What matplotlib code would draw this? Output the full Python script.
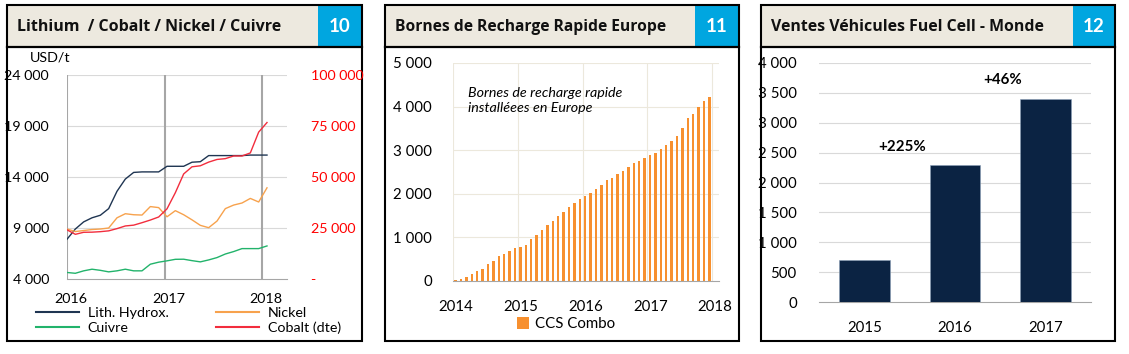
import numpy as np
import matplotlib
matplotlib.use("Agg")
import matplotlib.pyplot as plt
from matplotlib.patches import Rectangle
import matplotlib.transforms as mtransforms

plt.rcParams['font.family'] = ['Lato', 'DejaVu Sans']

# ---------------- DATA ----------------
# Panel 10: monthly-ish points from Jan 2016 to Jan 2018
metal_steps = list(range(25))
lith_hydrox = [7900, 8900, 9600, 10000, 10250, 10900, 12600, 13800, 14450, 14500, 14500, 14500,
               15050, 15050, 15050, 15450, 15500, 16100, 16100, 16100, 16100, 16100, 16150, 16150, 16150]
nickel = [8900, 8650, 8750, 8850, 8900, 9000, 10000, 10400, 10300, 10270, 11100, 11000,
          10100, 10700, 10300, 9800, 9260, 9030, 9680, 10900, 11250, 11450, 11900, 11550, 12940]
cuivre = [4640, 4560, 4800, 4960, 4850, 4700, 4800, 4960, 4800, 4800, 5450, 5650,
          5780, 5930, 5940, 5800, 5680, 5870, 6100, 6450, 6690, 6980, 6980, 6980, 7240]
cobalt = [24100, 21900, 22900, 22960, 23200, 23600, 24700, 26000, 26400, 27600, 28900, 30400,
          34400, 42300, 51500, 55000, 55500, 57300, 58600, 59000, 60300, 60300, 61800, 72000, 76700]
metal_years = [2016, 2017, 2018]
left_ticks = [4000, 9000, 14000, 19000, 24000]
right_ticks = [0, 25000, 50000, 75000, 100000]

# Panel 11: CCS Combo fast chargers in Europe, monthly Jan 2014 - Dec 2017
ccs_months = list(range(48))
ccs_combo = [15, 50, 90, 150, 220, 280, 380, 460, 570, 630, 690, 750,
             780, 820, 960, 1050, 1180, 1280, 1380, 1490, 1580, 1700, 1800, 1880,
             1950, 2010, 2100, 2200, 2320, 2370, 2450, 2530, 2610, 2700, 2760, 2830,
             2880, 2940, 3020, 3130, 3200, 3330, 3500, 3730, 3830, 4000, 4130, 4230]
ccs_years = [2014, 2015, 2016, 2017, 2018]

# Panel 12: Fuel cell vehicle sales worldwide
fc_years = ['2015', '2016', '2017']
fc_sales = [700, 2300, 3390]
fc_growth = ['+225%', '+46%']

# ---------------- FIGURE ----------------
W, H = 1129, 354
fig = plt.figure(figsize=(W / 100, H / 100), dpi=100)
fig.patch.set_facecolor('white')
renderer = fig.canvas.get_renderer()

bg = fig.add_axes([0, 0, 1, 1], zorder=0)
bg.set_xlim(0, W)
bg.set_ylim(H, 0)
bg.axis('off')

FS = 10.3


def fmt(v):
    return f"{int(v):,}".replace(',', ' ')


def fit_text(t, target_w):
    w = t.get_window_extent(renderer).width
    t.set_fontsize(t.get_fontsize() * target_w / w)


def panel(x0, x1, xb, title, num, title_w):
    top, hb, bot = 5, 47, 341
    bg.add_patch(Rectangle((x0, top), xb - x0, hb - top, facecolor='#ede9df', edgecolor='none'))
    bg.add_patch(Rectangle((xb, top), x1 - xb, hb - top, facecolor='#00a6e0', edgecolor='none'))
    bg.add_patch(Rectangle((x0, top), x1 - x0, bot - top, facecolor='none', edgecolor='black', lw=1.5))
    bg.plot([x0, x1], [hb, hb], color='black', lw=1.6)
    t = bg.text(x0 + 10, (top + hb) / 2 + 1, title, fontsize=12, fontweight='bold',
                family=['Open Sans', 'DejaVu Sans'],
                va='center', ha='left', color='#111111')
    fit_text(t, title_w)
    bg.text((xb + x1) / 2, (top + hb) / 2 + 1, num, fontsize=13.5, fontweight='bold',
            va='center', ha='center', color='white')


panel(7, 362, 318, 'Lithium  / Cobalt / Nickel / Cuivre', '10', 264)
panel(385, 739, 695, 'Bornes de Recharge Rapide Europe', '11', 270)
panel(761, 1115, 1073, 'Ventes Véhicules Fuel Cell - Monde', '12', 272)


def axes_px(l, t, r, b):
    return fig.add_axes([l / W, 1 - b / H, (r - l) / W, (b - t) / H], zorder=2)


def shift_xlabels(ax, dx_px):
    off = mtransforms.ScaledTranslation(dx_px / 100, 0, fig.dpi_scale_trans)
    for lab in ax.get_xticklabels():
        lab.set_transform(lab.get_transform() + off)


# ---------------- PANEL 10 ----------------
ax1 = axes_px(67, 75, 287, 279)
steps_per_year = 11.7
xm = [2016 + s / steps_per_year for s in metal_steps]
ax1.set_xlim(2016, 2016 + 220 / 97.5)
ax1.set_ylim(4000, 24000)
for s in ax1.spines.values():
    s.set_visible(False)
ax1.spines['bottom'].set_visible(True)
ax1.spines['bottom'].set_color('#a6a6a6')
ax1.set_yticks(left_ticks)
ax1.set_yticklabels([fmt(v) for v in left_ticks], fontsize=FS)
ax1.tick_params(axis='y', length=0, pad=13)
ax1.set_xticks(metal_years)
ax1.set_xticklabels([str(y) for y in metal_years], fontsize=FS)
ax1.tick_params(axis='x', length=0, pad=10)
shift_xlabels(ax1, 4)
for v in left_ticks[1:]:
    ax1.axhline(v, color='#d9d9d9', lw=0.8, zorder=0)
for y in metal_years:
    ax1.axvline(y, color='#a6a6a6', lw=1.5, zorder=0)

l1, = ax1.plot(xm, lith_hydrox, color='#1f3552', lw=1.0, label='Lith. Hydrox.')
l3, = ax1.plot(xm, cuivre, color='#22b36b', lw=1.0, label='Cuivre')
l2, = ax1.plot(xm, nickel, color='#f7a24d', lw=1.0, label='Nickel')
ax1b = ax1.twinx()
ax1b.set_zorder(ax1.get_zorder() + 1)
ax1b.patch.set_visible(False)
l4, = ax1b.plot(xm, cobalt, color='#f22d3d', lw=1.0, label='Cobalt (dte)')
ax1b.set_ylim(0, 100000)
ax1b.set_yticks(right_ticks)
ax1b.set_yticklabels(['-'] + [fmt(v) for v in right_ticks[1:]], fontsize=FS, color='#ff0000')
ax1b.tick_params(axis='y', length=0, pad=17)
for s in ax1b.spines.values():
    s.set_visible(False)
ax1b.set_xlim(ax1.get_xlim())

bg.text(30, 57, 'USD/t', fontsize=FS, va='center', ha='left')
leg = fig.legend(handles=[l1, l3, l2, l4], ncol=2, frameon=False, fontsize=FS,
                 loc='upper left', bbox_to_anchor=(36 / W, 1 - 341 / H, 305 / W, 34 / H),
                 bbox_transform=fig.transFigure, mode='expand', handlelength=3.0,
                 handletextpad=0.6, labelspacing=0.2, borderaxespad=0, borderpad=0)
for h in leg.legend_handles:
    h.set_linewidth(1.5)

# ---------------- PANEL 11 ----------------
ax2 = axes_px(453, 63, 719, 281)
xc = [2014 + (m + 0.5) / 12 for m in ccs_months]
ax2.bar(xc, ccs_combo, width=0.45 / 12, color='#f7902f', label='CCS Combo', zorder=3)
ax2.set_xlim(2014, 2014 + 266 / 64.75)
ax2.set_ylim(0, 5000)
for s in ax2.spines.values():
    s.set_visible(False)
ax2.spines['bottom'].set_visible(True)
ax2.spines['bottom'].set_color('#a6a6a6')
ax2.spines['bottom'].set_zorder(4)
ax2.set_yticks(range(0, 5001, 1000))
ax2.set_yticklabels([fmt(v) for v in range(0, 5001, 1000)], fontsize=10.8)
ax2.tick_params(axis='y', length=0, pad=15)
ax2.set_xticks(ccs_years)
ax2.set_xticklabels([str(y) for y in ccs_years], fontsize=10.8)
ax2.tick_params(axis='x', length=0, pad=14)
shift_xlabels(ax2, 3)
for v in range(1000, 5001, 1000):
    ax2.axhline(v, color='#ece8dc', lw=0.8, zorder=0)
for y in ccs_years:
    ax2.axvline(y, color='#ece8dc', lw=0.8, zorder=0)
ax2.text(2014 + 15 / 64.75, 4460, 'Bornes de recharge rapide\ninstalléees en Europe',
         fontsize=10.3, style='italic', va='top', ha='left', linespacing=1.35)
ax2.legend(loc='center', bbox_to_anchor=(566 / W, 1 - 324 / H), bbox_transform=fig.transFigure,
           frameon=False, fontsize=10.8, handlelength=0.8, handleheight=0.9, handletextpad=0.4)

# ---------------- PANEL 12 ----------------
ax3 = axes_px(819, 63, 1091, 302)
xpos = np.arange(len(fc_years))
ax3.bar(xpos, fc_sales, width=0.56, color='#0b2343', edgecolor='#8aa0b8', lw=0.4, zorder=3)
ax3.set_xlim(-0.5, 2.5)
ax3.set_ylim(0, 4000)
for s in ax3.spines.values():
    s.set_visible(False)
ax3.spines['bottom'].set_visible(True)
ax3.spines['bottom'].set_color('#a6a6a6')
ax3.set_yticks(range(0, 4001, 500))
ax3.set_yticklabels([fmt(v) for v in range(0, 4001, 500)], fontsize=10.8)
ax3.tick_params(axis='y', length=0, pad=16)
ax3.set_xticks(xpos)
ax3.set_xticklabels(fc_years, fontsize=10.8)
ax3.tick_params(axis='x', length=0, pad=14)
for v in range(500, 4001, 500):
    ax3.axhline(v, color='#d9d9d9', lw=0.8, zorder=0)
ax3.text(0.42, 2594, fc_growth[0], fontsize=10.8, fontweight='bold', ha='center', va='center')
ax3.text(1.52, 3715, fc_growth[1], fontsize=10.8, fontweight='bold', ha='center', va='center')

fig.savefig('out.png', dpi=100)
